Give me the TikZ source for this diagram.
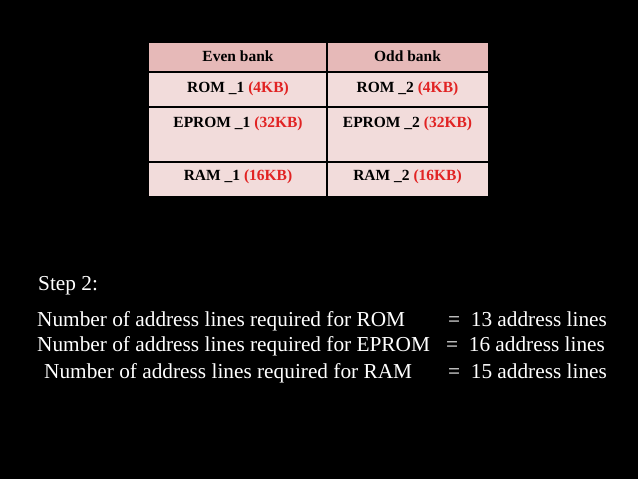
\documentclass[tikz,border=0pt]{standalone}
\usepackage{fontspec}
\setmainfont{Liberation Serif}
\usepackage{tikz}

\definecolor{headpink}{RGB}{230,185,184}
\definecolor{cellpink}{RGB}{242,220,219}
\definecolor{kbred}{RGB}{225,35,35}
\newcommand{\kb}[1]{\textcolor{kbred}{(#1)}}

\begin{document}
\begin{tikzpicture}[x=1pt,y=-1pt,
	cell text/.style={font=\fontsize{15.5}{18}\selectfont\bfseries,anchor=base,inner sep=0pt},
	step text/.style={font=\fontsize{21.3}{25}\selectfont,text=white,anchor=base west,inner sep=0pt}]
	\useasboundingbox (0,0) rectangle (638,479);
	\fill[black] (0,0) rectangle (638,479);

	% table
	\fill[headpink] (149,43) rectangle (488,72);
	\fill[cellpink] (149,72) rectangle (488,196);
	\draw[line width=2pt] (149,72) -- (488,72);
	\draw[line width=2pt] (149,107) -- (488,107);
	\draw[line width=2pt] (149,162) -- (488,162);
	\draw[line width=1.5pt] (327,43) -- (327,196);

	\draw
		(238,61.7)  node(even) [cell text] {Even bank}
		(407.5,61.7) node(odd) [cell text] {Odd bank}
		(238,92.7)  node(rom1) [cell text] {ROM \_1 \kb{4KB}}
		(407.5,92.7) node(rom2) [cell text] {ROM \_2 \kb{4KB}}
		(238,127.7) node(eprom1) [cell text] {EPROM \_1 \kb{32KB}}
		(407.5,127.7) node(eprom2) [cell text] {EPROM \_2 \kb{32KB}}
		(238,180.7) node(ram1) [cell text] {RAM \_1 \kb{16KB}}
		(407.5,180.7) node(ram2) [cell text] {RAM \_2 \kb{16KB}};

	% step 2
	\draw
		(38,290.7) node(step) [step text] {Step 2:}
		(37,326.7) node(lrom) [step text] {Number of address lines required for ROM}
		(37,351.7) node(leprom) [step text] {Number of address lines required for EPROM}
		(44,378.3) node(lram) [step text] {Number of address lines required for RAM}
		(448,326.7) node(rrom) [step text] {=\ \ 13 address lines}
		(446,351.7) node(reprom) [step text] {=\ \ 16 address lines}
		(448,378.3) node(rram) [step text] {=\ \ 15 address lines};
\end{tikzpicture}
\end{document}
